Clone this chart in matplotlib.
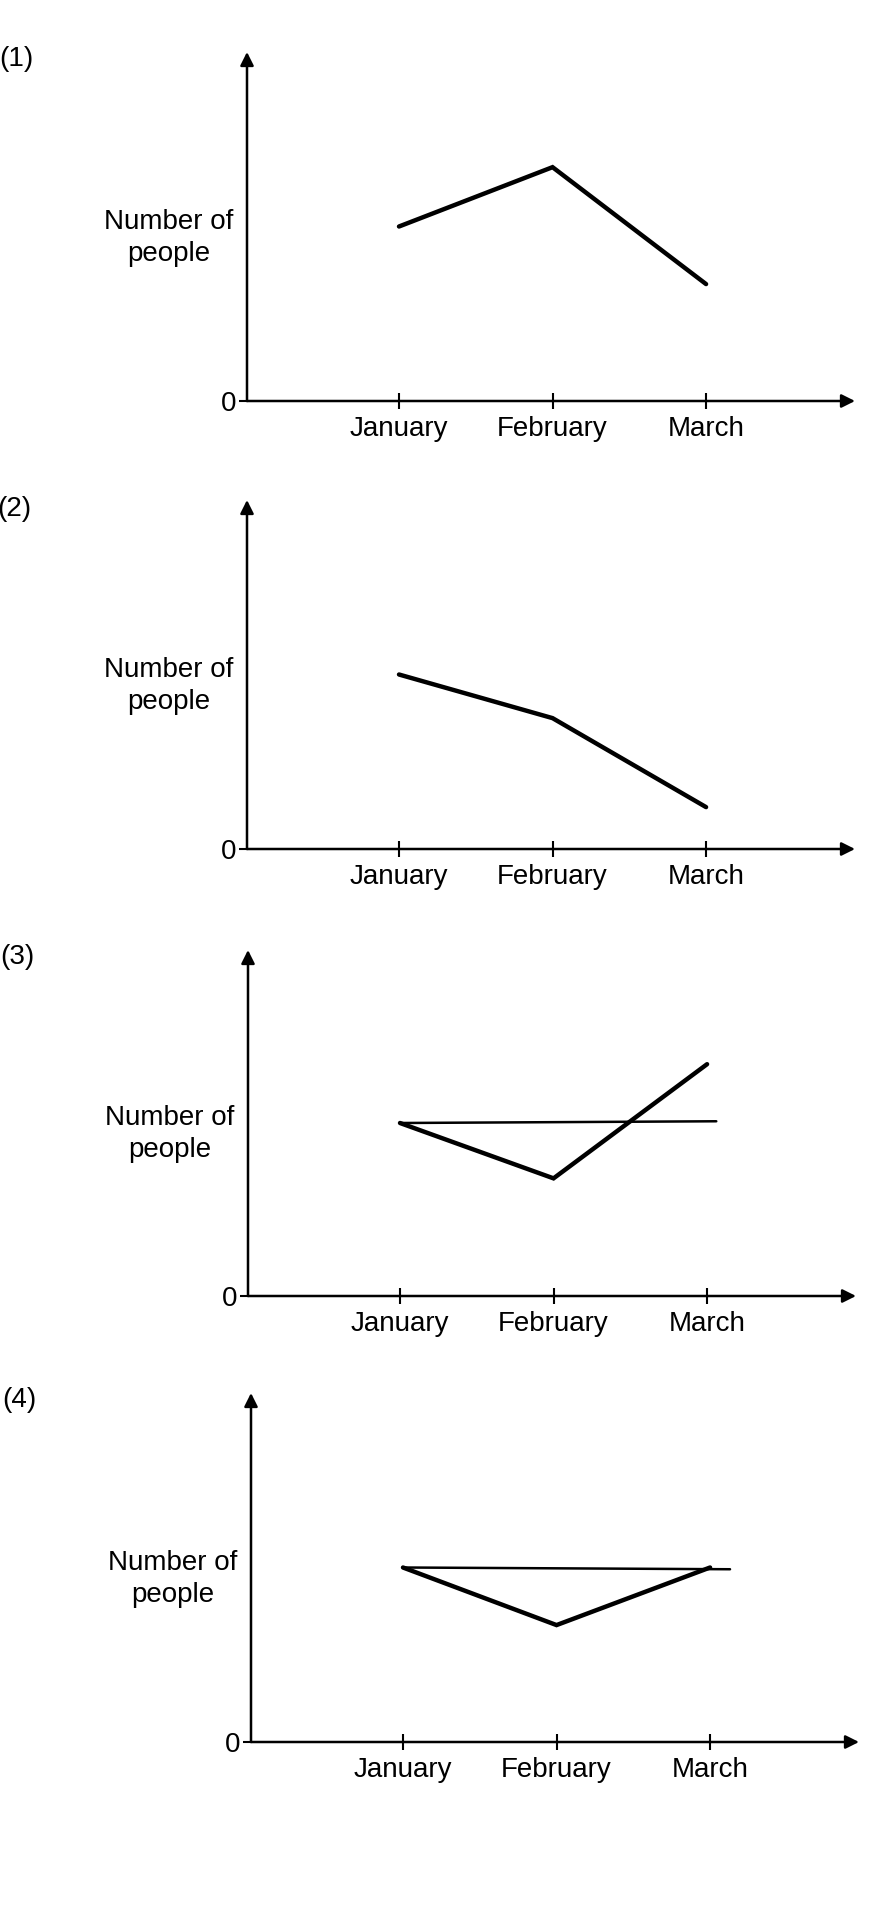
import matplotlib
matplotlib.use("Agg")
import matplotlib.pyplot as plt

plt.rcParams['font.family'] = ['Liberation Sans', 'DejaVu Sans']

# ---- data ----
months = ["January", "February", "March"]
panel_labels = ["(1)", "(2)", "(3)", "(4)"]
y_label = "Number of\npeople"
zero_label = "0"

p1_line = [50, 67, 33.5]
p2_line = [50, 37.5, 12]
p3_line = [50, 34, 67]
p3_flat = [50, 50.5]
p3_flat_x = [0, 2.06]
p4_line = [50, 33.5, 50]
p4_flat = [50, 49.5]
p4_flat_x = [0, 2.13]

# ---- layout (pixels) ----
W, H = 895, 1922
FS = 20
# (axis left x, x-axis y, arrow tip y, label y, label x)
panels = [
    (247, 401, 52, 59, -1),
    (247, 849, 500, 509, -3),
    (248, 1296, 950, 957, 0),
    (251, 1742, 1393, 1400, 2),
]
AX_W = 608

fig = plt.figure(figsize=(W / 100, H / 100), dpi=100)

series = [
    [(list(range(3)), p1_line, 3.2)],
    [(list(range(3)), p2_line, 3.2)],
    [(list(range(3)), p3_line, 3.2), (p3_flat_x, p3_flat, 1.8)],
    [(list(range(3)), p4_line, 3.2), (p4_flat_x, p4_flat, 1.8)],
]

for i, (ax_x, ax_y, tip_y, lab_y, lab_x) in enumerate(panels):
    left = ax_x / W
    bottom = 1 - ax_y / H
    height = (ax_y - tip_y) / H
    ax = fig.add_axes([left, bottom, AX_W / W, height])
    ax.set_xlim(-0.99, 2.97)
    ax.set_ylim(0, 100)
    for s in ax.spines.values():
        s.set_visible(False)
    ax.patch.set_alpha(0)

    for xs, ys, lw in series[i]:
        ax.plot(xs, ys, color='black', lw=lw, solid_capstyle='round',
                solid_joinstyle='miter', clip_on=False, zorder=3)

    # axis arrows
    ax.annotate('', xy=(1, 0), xycoords='axes fraction', xytext=(0, 0),
                arrowprops=dict(arrowstyle='-|>', lw=1.8, color='black',
                                mutation_scale=20, shrinkA=0, shrinkB=0))
    ax.annotate('', xy=(0, 1), xycoords='axes fraction', xytext=(0, 0),
                arrowprops=dict(arrowstyle='-|>', lw=1.8, color='black',
                                mutation_scale=20, shrinkA=0, shrinkB=0))

    ax.set_xticks(range(3))
    ax.set_xticklabels(months, fontsize=FS)
    ax.tick_params(axis='x', direction='inout', length=12, width=1.5, pad=4.5)
    ax.set_yticks([0])
    ax.set_yticklabels([zero_label], fontsize=FS)
    ax.tick_params(axis='y', direction='out', length=6, width=1.5, pad=2)

    ax.text(-0.128, 0.468, y_label, transform=ax.transAxes, ha='center',
            va='center', fontsize=FS, linespacing=1.3)

    fig.text(lab_x / W, 1 - lab_y / H, panel_labels[i], fontsize=FS,
             ha='left', va='center')

fig.savefig("out.png", dpi=100, facecolor='white')
